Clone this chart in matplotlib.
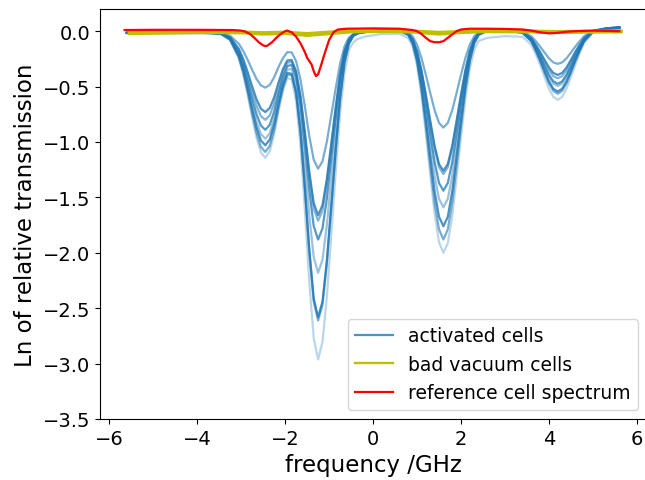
import matplotlib
matplotlib.use("Agg")
import matplotlib.pyplot as plt

# shared frequency grid (GHz) for the activated-cell spectra
freq = [-5.6, -5.0, -4.4, -3.9, -3.65, -3.45, -3.25, -3.05, -2.95, -2.85, -2.75, -2.65,
        -2.55, -2.45, -2.35, -2.25, -2.15, -2.05, -1.95, -1.85, -1.75, -1.65, -1.55, -1.45,
        -1.35, -1.25, -1.15, -1.05, -0.95, -0.85, -0.75, -0.65, -0.55, -0.45, -0.35, -0.2,
        0.2, 0.6, 0.8, 0.9, 1.0, 1.1, 1.2, 1.3, 1.4, 1.5, 1.6, 1.7, 1.8, 1.9, 2.0, 2.1, 2.2,
        2.3, 2.4, 2.6, 3.0, 3.4, 3.6, 3.7, 3.8, 3.9, 4.0, 4.1, 4.2, 4.3, 4.4, 4.5, 4.6, 4.7,
        4.8, 5.0, 5.3, 5.6]

act_1 = [-0.015, -0.015, -0.015, -0.015, -0.016, -0.019, -0.042, -0.116, -0.180, -0.261, -0.349, -0.431, -0.489, -0.510,
         -0.485, -0.417, -0.324, -0.243, -0.189, -0.192, -0.270, -0.439, -0.681, -0.948, -1.160, -1.241,
         -1.174, -0.995, -0.757, -0.516, -0.293, -0.139, -0.059, -0.026, -0.015, -0.006,
         0.010, 0.008, -0.011, -0.047, -0.122, -0.241, -0.393, -0.557, -0.714, -0.828, -0.870,
         -0.828, -0.714, -0.557, -0.393, -0.241, -0.122, -0.047, -0.011, 0.008, 0.010,
         -0.006, -0.046, -0.090, -0.139, -0.193, -0.245, -0.282, -0.295, -0.282, -0.245, -0.193, -0.139, -0.090, -0.046, 0.004, 0.025, 0.035]
act_2 = [-0.015, -0.015, -0.015, -0.015, -0.016, -0.021, -0.055, -0.162, -0.254, -0.371, -0.498, -0.616, -0.700, -0.730,
         -0.693, -0.597, -0.463, -0.343, -0.264, -0.261, -0.363, -0.587, -0.910, -1.268, -1.552, -1.661,
         -1.571, -1.332, -1.012, -0.688, -0.390, -0.183, -0.076, -0.031, -0.017, -0.007,
         0.010, 0.007, -0.020, -0.073, -0.181, -0.352, -0.572, -0.808, -1.035, -1.199, -1.260,
         -1.199, -1.035, -0.808, -0.572, -0.352, -0.181, -0.073, -0.020, 0.007, 0.010,
         -0.009, -0.063, -0.122, -0.187, -0.259, -0.328, -0.377, -0.395, -0.377, -0.328, -0.259, -0.187, -0.122, -0.063, 0.001, 0.025, 0.035]
act_3 = [-0.015, -0.015, -0.015, -0.015, -0.017, -0.022, -0.060, -0.177, -0.278, -0.406, -0.546, -0.674, -0.767, -0.800,
         -0.760, -0.653, -0.507, -0.374, -0.285, -0.277, -0.378, -0.606, -0.938, -1.307, -1.600, -1.711,
         -1.618, -1.372, -1.042, -0.709, -0.401, -0.189, -0.078, -0.032, -0.017, -0.007,
         0.010, 0.007, -0.021, -0.075, -0.185, -0.361, -0.585, -0.827, -1.060, -1.228, -1.290,
         -1.228, -1.060, -0.827, -0.585, -0.361, -0.185, -0.075, -0.021, 0.007, 0.010,
         -0.010, -0.068, -0.131, -0.201, -0.279, -0.353, -0.406, -0.425, -0.406, -0.353, -0.279, -0.201, -0.131, -0.068, 0.000, 0.024, 0.033]
act_4 = [-0.015, -0.015, -0.015, -0.015, -0.017, -0.023, -0.065, -0.196, -0.308, -0.451, -0.607, -0.750, -0.853, -0.890,
         -0.845, -0.727, -0.563, -0.415, -0.314, -0.305, -0.416, -0.667, -1.031, -1.436, -1.759, -1.881,
         -1.779, -1.508, -1.145, -0.779, -0.440, -0.206, -0.085, -0.034, -0.017, -0.007,
         0.010, 0.007, -0.025, -0.084, -0.208, -0.403, -0.654, -0.924, -1.183, -1.370, -1.440,
         -1.370, -1.183, -0.924, -0.654, -0.403, -0.208, -0.084, -0.025, 0.007, 0.010,
         -0.012, -0.077, -0.147, -0.225, -0.312, -0.394, -0.453, -0.475, -0.453, -0.394, -0.312, -0.225, -0.147, -0.077, -0.002, 0.024, 0.033]
act_5 = [-0.015, -0.015, -0.015, -0.015, -0.017, -0.024, -0.070, -0.213, -0.335, -0.491, -0.661, -0.817, -0.930, -0.970,
         -0.921, -0.792, -0.613, -0.454, -0.347, -0.342, -0.476, -0.770, -1.194, -1.665, -2.039, -2.181,
         -2.063, -1.748, -1.327, -0.902, -0.509, -0.238, -0.097, -0.038, -0.019, -0.008,
         0.008, 0.005, -0.028, -0.094, -0.230, -0.446, -0.723, -1.020, -1.307, -1.513, -1.590,
         -1.513, -1.307, -1.020, -0.723, -0.446, -0.230, -0.094, -0.028, 0.005, 0.008,
         -0.013, -0.080, -0.154, -0.235, -0.326, -0.411, -0.473, -0.495, -0.473, -0.411, -0.326, -0.235, -0.154, -0.080, -0.003, 0.022, 0.030]
act_6 = [-0.015, -0.015, -0.015, -0.015, -0.017, -0.025, -0.074, -0.225, -0.356, -0.521, -0.702, -0.868, -0.987, -1.030,
         -0.978, -0.841, -0.652, -0.485, -0.377, -0.385, -0.553, -0.905, -1.410, -1.969, -2.412, -2.581,
         -2.441, -2.069, -1.570, -1.066, -0.601, -0.280, -0.113, -0.043, -0.020, -0.009,
         0.008, 0.004, -0.032, -0.105, -0.256, -0.494, -0.801, -1.130, -1.447, -1.675, -1.760,
         -1.675, -1.447, -1.130, -0.801, -0.494, -0.256, -0.105, -0.032, 0.004, 0.008,
         -0.014, -0.089, -0.169, -0.259, -0.359, -0.453, -0.520, -0.545, -0.520, -0.453, -0.359, -0.259, -0.169, -0.089, -0.004, 0.022, 0.030]
act_7 = [-0.015, -0.015, -0.015, -0.015, -0.017, -0.026, -0.078, -0.238, -0.376, -0.551, -0.742, -0.918, -1.045, -1.090,
         -1.035, -0.890, -0.689, -0.511, -0.395, -0.397, -0.562, -0.917, -1.427, -1.992, -2.440, -2.611,
         -2.470, -2.093, -1.588, -1.079, -0.608, -0.283, -0.114, -0.044, -0.020, -0.009,
         0.008, 0.004, -0.035, -0.113, -0.274, -0.529, -0.856, -1.207, -1.545, -1.789, -1.880,
         -1.789, -1.545, -1.207, -0.856, -0.529, -0.274, -0.113, -0.035, 0.004, 0.008,
         -0.015, -0.092, -0.176, -0.269, -0.372, -0.469, -0.539, -0.565, -0.539, -0.469, -0.372, -0.269, -0.176, -0.092, -0.005, 0.020, 0.028]
act_8 = [-0.020, -0.020, -0.020, -0.020, -0.022, -0.030, -0.083, -0.250, -0.395, -0.578, -0.778, -0.962, -1.095, -1.142,
         -1.084, -0.933, -0.722, -0.539, -0.422, -0.437, -0.631, -1.038, -1.619, -2.261, -2.769, -2.963,
         -2.803, -2.395, -1.843, -1.274, -0.741, -0.382, -0.170, -0.100, -0.070, -0.050,
         -0.025, -0.024, -0.063, -0.139, -0.309, -0.577, -0.921, -1.292, -1.648, -1.904, -2.000,
         -1.914, -1.668, -1.322, -0.951, -0.607, -0.339, -0.169, -0.088, -0.060, -0.045,
         -0.051, -0.124, -0.208, -0.303, -0.413, -0.518, -0.593, -0.620, -0.593, -0.518, -0.413, -0.303, -0.198, -0.104, -0.011, 0.015, 0.020]

# bad vacuum cells
bad_freq = [-5.55, -4.0, -3.0, -2.5, -2.0, -1.5, -1.0, -0.5, 0.0, 0.5, 1.0, 1.5, 2.0, 2.5, 3.5, 4.2, 5.0, 5.65]
bad_1 = [-0.015, -0.008, -0.010, -0.020, -0.015, -0.030, -0.015, -0.002, 0.000, 0.000, -0.005, -0.018, -0.008, 0.000, -0.002, -0.008, -0.004, -0.002]
bad_2 = [-0.026, -0.016, -0.018, -0.030, -0.024, -0.042, -0.026, -0.010, -0.007, -0.007, -0.014, -0.030, -0.016, -0.008, -0.010, -0.016, -0.012, -0.010]
bad_3 = [-0.005, -0.001, -0.003, -0.010, -0.006, -0.018, -0.005, 0.005, 0.007, 0.007, 0.003, -0.007, 0.000, 0.007, 0.005, 0.000, 0.003, 0.005]

# reference cell spectrum
ref_freq = [-5.65, -5.0, -4.0, -3.2, -3.0, -2.9, -2.8, -2.7, -2.6, -2.5, -2.45, -2.4, -2.3, -2.2, -2.1,
            -2.0, -1.95, -1.85, -1.75, -1.65, -1.55, -1.5, -1.45, -1.4, -1.35, -1.3, -1.25, -1.2, -1.1,
            -1.0, -0.9, -0.8, -0.6, 0.0, 0.6, 0.9, 1.0, 1.1, 1.2, 1.3, 1.4, 1.5, 1.6, 1.7, 1.8, 1.9,
            2.0, 2.2, 2.6, 3.0, 3.4, 3.6, 3.8, 4.0, 4.2, 4.4, 4.6, 5.0, 5.6]
ref_val = [0.010, 0.012, 0.012, 0.010, 0.005, -0.005, -0.025, -0.060, -0.100, -0.128, -0.135, -0.130, -0.100, -0.060, -0.025,
           0.000, 0.005, -0.010, -0.050, -0.110, -0.190, -0.240, -0.270, -0.300, -0.360, -0.405, -0.390, -0.330, -0.200,
           -0.080, -0.010, 0.015, 0.022, 0.025, 0.022, 0.010, 0.000, -0.025, -0.060, -0.090, -0.100, -0.100, -0.090, -0.060, -0.030, 0.000,
           0.015, 0.022, 0.022, 0.020, 0.015, 0.005, -0.010, -0.020, -0.015, -0.005, 0.000, 0.005, 0.000]

fig = plt.figure(figsize=(6.45, 4.81), dpi=100)
ax = fig.add_axes([100 / 645, 61 / 481, 547 / 645, 410 / 481])

blue = "#1f77b4"
act_curves = [act_1, act_2, act_3, act_4, act_5, act_6, act_7, act_8]
act_alpha = [0.6, 0.8, 0.55, 0.75, 0.45, 0.8, 0.6, 0.3]
for i, (vals, al) in enumerate(zip(act_curves, act_alpha)):
    ax.plot(freq, vals, color=blue, alpha=al, lw=1.6,
            label="activated cells" if i == 1 else None)

for i, vals in enumerate([bad_1, bad_2, bad_3]):
    ax.plot(bad_freq, vals, color="y", lw=1.7,
            label="bad vacuum cells" if i == 0 else None)

ax.plot(ref_freq, ref_val, color="red", lw=1.6, label="reference cell spectrum")

ax.set_xlim(-6.21, 6.23)
ax.set_ylim(-3.5, 0.2)
ax.set_xticks([-6, -4, -2, 0, 2, 4, 6])
ax.set_yticks([0.0, -0.5, -1.0, -1.5, -2.0, -2.5, -3.0, -3.5])
ax.tick_params(labelsize=14)
ax.set_xlabel("frequency /GHz", fontsize=16.5)
ax.set_ylabel("Ln of relative transmission", fontsize=16.5)
ax.legend(loc="lower right", fontsize=13.5)

fig.savefig("out.png", dpi=100)
